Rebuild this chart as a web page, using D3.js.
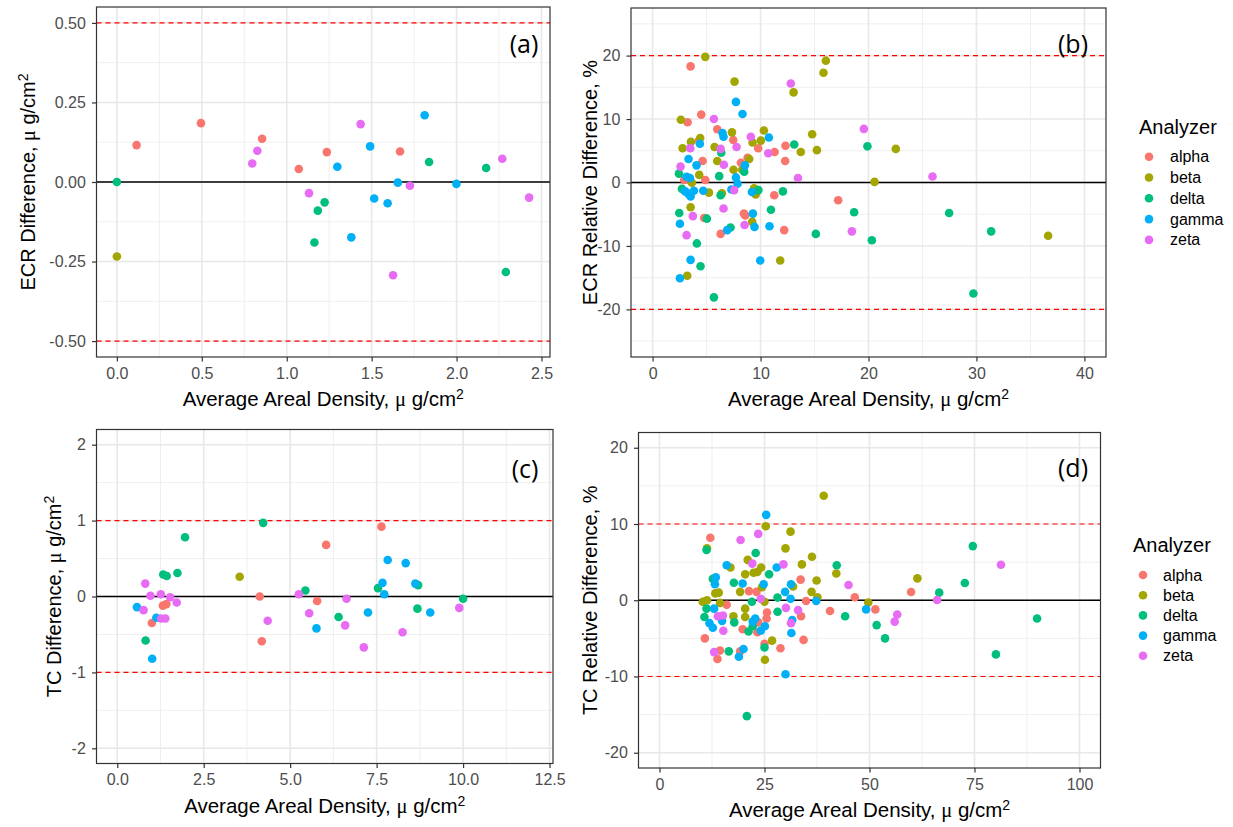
<!DOCTYPE html>
<html><head><meta charset="utf-8">
<script src="https://cdn.jsdelivr.net/npm/d3@7"></script>
<style>body{margin:0;background:#fff;} svg{display:block;}</style>
</head><body><svg id="c" width="1233" height="827"></svg>
<script>
const analyzers = ["alpha","beta","delta","gamma","zeta"];
const colors = ["#F8766D","#A3A500","#00BF7D","#00B0F6","#E76BF3"];

// ---- Panel (a): ECR Difference ----
const ecrDiffAlpha = [[0.116,0.116],[0.495,0.185],[0.855,0.136],[1.071,0.041],[1.236,0.094],[1.667,0.096]];
const ecrDiffBeta  = [[0,-0.234]];
const ecrDiffDelta = [[0,0],[1.183,-0.090],[1.223,-0.064],[1.163,-0.190],[1.838,0.063],[2.174,0.044],[2.290,-0.283]];
const ecrDiffGamma = [[1.298,0.048],[1.380,-0.174],[1.491,0.112],[1.515,-0.052],[1.594,-0.067],[1.654,-0.002],[1.812,0.210],[1.999,-0.006]];
const ecrDiffZeta  = [[0.797,0.058],[0.827,0.098],[1.131,-0.035],[1.435,0.182],[1.626,-0.293],[1.725,-0.012],[2.269,0.073],[2.427,-0.049]];

// ---- Panel (b): ECR Relative Difference ----
const ecrRelAlpha = [[3.52,18.3],[4.51,10.7],[3.24,9.5],[5.99,8.4],[7.47,6.7],[4.29,6.6],[12.31,5.8],[11.3,4.8],[9.78,5.4],[4.63,3.4],[8.8,3.9],[12.28,3.4],[8.18,3.1],[4.88,0.4],[2.93,0.4],[11.27,-2.0],[17.19,-2.8],[8.46,-4.9],[8.58,-5.2],[4.78,-5.6],[6.3,-8.1],[12.19,-7.5]];
const ecrRelBeta  = [[4.88,19.8],[16.05,19.2],[15.83,17.3],[7.59,15.9],[13.06,14.2],[2.62,9.9],[7.35,7.9],[10.31,8.2],[4.41,7.0],[3.55,6.4],[9.26,6.3],[10.03,6.6],[14.78,7.6],[15.22,5.1],[13.73,4.8],[2.78,5.4],[5.74,5.6],[5.99,3.4],[8.95,3.7],[7.5,2.0],[8.3,2.0],[4.32,1.2],[3.64,-0.05],[5.22,-1.6],[6.42,-1.7],[9.4,-0.9],[9.55,-1.9],[3.52,-3.9],[9.23,-6.2],[11.82,-12.3],[3.21,-14.7],[22.53,5.3],[20.56,0.1],[36.64,-8.4]];
const ecrRelDelta = [[13.12,6.0],[6.36,4.7],[8.49,1.7],[2.44,1.4],[6.17,1.0],[2.72,-1.0],[6.3,-2.0],[9.8,-1.2],[12.07,-1.4],[10.96,-4.3],[2.47,-4.8],[5.03,-5.7],[7.22,-7.1],[15.12,-8.1],[4.1,-9.6],[4.44,-13.2],[5.68,-18.1],[19.9,5.7],[18.67,-4.7],[27.47,-4.8],[31.36,-7.7],[20.31,-9.1],[29.72,-17.5]];
const ecrRelGamma = [[7.72,12.7],[8.33,10.8],[6.48,7.8],[6.57,7.2],[10.77,7.1],[4.38,6.1],[3.33,3.7],[4.07,2.7],[8.55,2.7],[3.15,0.9],[3.46,0.7],[7.72,0.8],[7.87,-0.2],[3.02,-1.4],[3.33,-1.8],[3.52,-2.2],[3.83,-1.3],[4.69,-1.3],[7.3,-1.1],[9.2,-1.5],[9.29,-4.9],[2.53,-6.5],[9.44,-7.0],[10.83,-6.9],[6.91,-7.5],[3.52,-12.2],[9.97,-12.3],[2.53,-15.1]];
const ecrRelZeta  = [[12.8,15.6],[5.68,10.0],[9.1,7.2],[10.71,4.6],[3.49,5.4],[6.3,5.3],[7.78,5.6],[2.59,2.5],[6.6,2.8],[13.46,0.7],[7.56,-1.2],[6.57,-4.1],[3.73,-5.3],[8.52,-6.7],[3.15,-8.3],[18.46,-7.7],[19.57,8.45],[25.93,0.94]];

// ---- Panel (c): TC Difference ----
const tcDiffAlpha = [[1.0,-0.35],[1.32,-0.12],[1.42,-0.10],[4.12,0.0],[4.18,-0.59],[5.78,-0.06],[6.04,0.68],[7.64,0.92]];
const tcDiffBeta  = [[3.54,0.26]];
const tcDiffDelta = [[0.82,-0.58],[1.33,0.29],[1.43,0.27],[1.74,0.31],[1.96,0.78],[4.22,0.97],[5.44,0.08],[6.4,-0.27],[7.54,0.11],[8.7,0.15],[8.68,-0.16],[10.0,-0.03]];
const tcDiffGamma = [[0.57,-0.14],[1.01,-0.82],[1.13,-0.28],[5.76,-0.42],[7.25,-0.21],[7.67,0.18],[7.72,0.03],[7.82,0.48],[8.34,0.44],[8.62,0.17],[9.05,-0.21]];
const tcDiffZeta  = [[0.76,-0.18],[0.81,0.17],[0.96,0.01],[1.26,0.03],[1.27,-0.29],[1.39,-0.29],[1.53,-0.01],[1.72,-0.08],[4.35,-0.32],[5.25,0.03],[5.55,-0.22],[6.63,-0.03],[6.59,-0.38],[7.13,-0.67],[8.25,-0.47],[9.89,-0.15]];

// ---- Panel (d): TC Relative Difference ----
const tcRelAlpha = [[12.1,8.2],[33.6,2.7],[21.3,1.2],[23.1,1.1],[46.5,0.4],[34.9,-0.1],[16.0,-0.6],[25.6,-1.6],[40.6,-1.4],[51.4,-1.2],[25.5,-2.4],[33.7,-2.1],[23.5,-2.9],[19.8,-3.8],[23.3,-4.2],[34.3,-5.2],[10.8,-5.0],[25.0,-5.7],[28.8,-6.3],[14.4,-6.6],[13.8,-7.7],[19.2,-6.7],[59.9,1.09]];
const tcRelBeta  = [[39.1,13.7],[25.3,9.7],[31.2,9.0],[11.3,6.8],[30.0,6.8],[36.3,5.7],[21.0,5.3],[16.9,4.3],[33.9,4.7],[24.2,4.3],[22.4,3.6],[23.3,3.7],[20.4,3.4],[42.1,3.5],[31.8,1.8],[37.4,2.6],[24.4,1.7],[14.1,1.0],[13.3,0.9],[19.2,1.1],[36.2,1.1],[37.6,0.4],[49.7,-0.3],[10.3,-0.2],[11.3,0],[14.4,-0.35],[25.0,-0.2],[20.4,-1.1],[17.6,-2.1],[20.4,-2.2],[26.8,-5.3],[25.1,-7.8],[61.4,2.87]];
const tcRelDelta = [[11.2,6.6],[22.9,6.2],[42.2,4.6],[26.1,3.4],[12.7,2.8],[17.7,2.3],[28.1,0.35],[22.0,-0.2],[11.2,-1.1],[28.1,-1.5],[10.7,-2.2],[44.2,-2.1],[17.8,-2.9],[21.2,-4.1],[22.2,-3.4],[25.0,-6.2],[16.5,-6.7],[20.8,-15.2],[74.6,7.1],[66.6,1.0],[72.7,2.26],[51.7,-3.26],[53.7,-5.0],[89.9,-2.4],[80.1,-7.1]];
const tcRelGamma = [[25.4,11.2],[16.0,4.6],[27.9,4.3],[13.4,3.0],[13.2,2.1],[19.8,2.2],[24.8,2.1],[31.3,2.1],[29.9,1.1],[31.2,0.2],[37.3,-0.1],[13.0,-1.1],[49.2,-1.2],[31.6,-2.6],[11.9,-3.0],[12.7,-3.6],[14.9,-2.7],[22.8,-2.4],[22.2,-2.8],[24.1,-4.0],[25.1,-3.4],[31.4,-4.3],[20.0,-6.4],[18.9,-7.4],[30.0,-9.7]];
const tcRelZeta  = [[23.5,8.7],[19.3,7.9],[22.1,4.8],[29.5,4.7],[45.0,2.0],[24.1,0.2],[30.1,-1.0],[33.0,-1.3],[13.9,-2.1],[15.1,-2.0],[31.3,-3.0],[15.2,-4.0],[13.0,-6.8],[81.3,4.65],[66.1,0.04],[56.6,-1.87],[56.0,-2.8]];

// ---- Tick values ----
const xTicksA = [0,0.5,1,1.5,2,2.5];
const yTicksA = [-0.5,-0.25,0,0.25,0.5];
const xTicksB = [0,10,20,30,40];
const yTicksB = [-20,-10,0,10,20];
const xTicksC = [0,2.5,5,7.5,10,12.5];
const yTicksC = [-2,-1,0,1,2];
const xTicksD = [0,25,50,75,100];
const yTicksD = [-20,-10,0,10,20];
const limitsA = [-0.5,0.5], limitsB = [-20,20], limitsC = [-1,1], limitsD = [-10,10];

const xTitleParts = ["Average Areal Density, ", "\u03bc", " g/cm"];
const fmt = n => v => (v<0?"-":"") + Math.abs(v).toFixed(n);

const panels = [
  {label:"(a)", series:[ecrDiffAlpha,ecrDiffBeta,ecrDiffDelta,ecrDiffGamma,ecrDiffZeta],
   xdom:[-0.12,2.55], ydom:[-0.55,0.55], xt:xTicksA, yt:yTicksA, lim:limitsA,
   xf:fmt(1), yf:fmt(2), ytitle:["ECR Difference, ","\u03bc"," g/cm"], ysup:true,
   box:[96.5,550,7,357], ytx:35, lab:[524,43]},
  {label:"(b)", series:[ecrRelAlpha,ecrRelBeta,ecrRelDelta,ecrRelGamma,ecrRelZeta],
   xdom:[-2,42], ydom:[-27.5,27.5], xt:xTicksB, yt:yTicksB, lim:limitsB,
   xf:fmt(0), yf:fmt(0), ytitle:["ECR Relative Difference, %"], ysup:false,
   box:[631,1106,8,357], ytx:597, lab:[1073,43]},
  {label:"(c)", series:[tcDiffAlpha,tcDiffBeta,tcDiffDelta,tcDiffGamma,tcDiffZeta],
   xdom:[-0.6,12.6], ydom:[-2.2,2.2], xt:xTicksC, yt:yTicksC, lim:limitsC,
   xf:fmt(1), yf:fmt(0), ytitle:["TC Difference, ","\u03bc"," g/cm"], ysup:true,
   box:[96.5,553,429.5,763.5], ytx:61, lab:[525,468]},
  {label:"(d)", series:[tcRelAlpha,tcRelBeta,tcRelDelta,tcRelGamma,tcRelZeta],
   xdom:[-5,105], ydom:[-22,22], xt:xTicksD, yt:yTicksD, lim:limitsD,
   xf:fmt(0), yf:fmt(0), ytitle:["TC Relative Difference, %"], ysup:false,
   box:[638.5,1100.5,432.5,768], ytx:597, lab:[1073,467]}
];

const svg = d3.select("#c");
const FONT = "'Liberation Sans', Arial, sans-serif";

function minors(ticks, dom){
  const step = ticks[1]-ticks[0];
  const out = [];
  for(let v = ticks[0]-step/2; v <= dom[1]; v += step){ if(v>=dom[0]) out.push(v); }
  return out;
}
function addParts(t, parts){
  parts.forEach(s => {
    const sp = t.append("tspan").text(s);
    if(s === "\u03bc") sp.style("font-family","'Liberation Serif', serif");
  });
}

panels.forEach(p => {
  const [L,R,T,B] = p.box;
  const x = d3.scaleLinear().domain(p.xdom).range([L,R]);
  const y = d3.scaleLinear().domain(p.ydom).range([B,T]);
  const g = svg.append("g");
  const grid = g.append("g");
  minors(p.xt,p.xdom).forEach(v => grid.append("line").attr("x1",x(v)).attr("x2",x(v)).attr("y1",T).attr("y2",B).attr("stroke","#EBEBEB").attr("stroke-width",0.8));
  minors(p.yt,p.ydom).forEach(v => grid.append("line").attr("y1",y(v)).attr("y2",y(v)).attr("x1",L).attr("x2",R).attr("stroke","#EBEBEB").attr("stroke-width",0.8));
  p.xt.forEach(v => grid.append("line").attr("x1",x(v)).attr("x2",x(v)).attr("y1",T).attr("y2",B).attr("stroke","#E8E8E8").attr("stroke-width",1.6));
  p.yt.forEach(v => grid.append("line").attr("y1",y(v)).attr("y2",y(v)).attr("x1",L).attr("x2",R).attr("stroke","#E8E8E8").attr("stroke-width",1.6));
  p.lim.forEach(v => g.append("line").attr("x1",L).attr("x2",R).attr("y1",y(v)).attr("y2",y(v))
     .attr("stroke","#FF0000").attr("stroke-width",1.1).attr("stroke-dasharray","5,4"));
  g.append("line").attr("x1",L).attr("x2",R).attr("y1",y(0)).attr("y2",y(0)).attr("stroke","#000").attr("stroke-width",1.3);
  p.series.forEach((s,i) => {
    g.append("g").selectAll("circle").data(s).join("circle")
      .attr("cx",d=>x(d[0])).attr("cy",d=>y(d[1])).attr("r",4.3).attr("fill",colors[i]);
  });
  g.append("rect").attr("x",L).attr("y",T).attr("width",R-L).attr("height",B-T)
    .attr("fill","none").attr("stroke","#333").attr("stroke-width",1.2);
  const ax = g.append("g").attr("transform",`translate(0,${B})`)
    .call(d3.axisBottom(x).tickValues(p.xt).tickFormat(p.xf).tickSize(4.5).tickPadding(6));
  const ay = g.append("g").attr("transform",`translate(${L},0)`)
    .call(d3.axisLeft(y).tickValues(p.yt).tickFormat(p.yf).tickSize(4.5).tickPadding(6.2));
  [ax,ay].forEach(a => {
    a.select(".domain").remove();
    a.selectAll(".tick line").attr("stroke","#333").attr("stroke-width",1.2);
    a.selectAll(".tick text").attr("fill","#4D4D4D").style("font-family",FONT).style("font-size","16px");
  });
  const xt = g.append("text").attr("x",(L+R)/2).attr("y",B+49).attr("text-anchor","middle")
    .style("font-family",FONT).style("font-size","20.5px").attr("fill","#000");
  addParts(xt, xTitleParts);
  xt.append("tspan").attr("dy","-0.5em").style("font-size","14px").text("2");
  const yt = g.append("text").attr("transform",`translate(${p.ytx},${(T+B)/2}) rotate(-90)`)
    .attr("text-anchor","middle").style("font-family",FONT).style("font-size","20px").attr("fill","#000");
  addParts(yt, p.ytitle);
  if(p.ysup) yt.append("tspan").attr("dy","-0.5em").style("font-size","14px").text("2");
  g.append("text").attr("x",p.lab[0]).attr("y",p.lab[1]).attr("text-anchor","middle").attr("dominant-baseline","central")
    .style("font-family","'Open Sans', sans-serif").style("font-size","25px").attr("fill","#000").text(p.label);
});

const legends = [
  {tx:1139, ty:134, dx:1149, lx:1170, y0:156.7, dy:20.8},
  {tx:1133, ty:552, dx:1143, lx:1163, y0:575, dy:20.2}
];
legends.forEach(l => {
  const g = svg.append("g");
  g.append("text").attr("x",l.tx).attr("y",l.ty).style("font-family",FONT).style("font-size","20px").attr("fill","#000").text("Analyzer");
  analyzers.forEach((a,i) => {
    g.append("circle").attr("cx",l.dx).attr("cy",l.y0+i*l.dy).attr("r",4.3).attr("fill",colors[i]);
    g.append("text").attr("x",l.lx).attr("y",l.y0+i*l.dy).attr("dominant-baseline","central")
      .style("font-family",FONT).style("font-size","16px").attr("fill","#000").text(a);
  });
});
</script></body></html>
